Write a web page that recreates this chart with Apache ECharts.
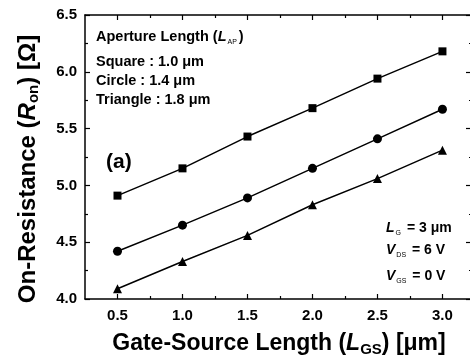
<!DOCTYPE html>
<html>
<head>
<meta charset="utf-8">
<script src="https://cdn.jsdelivr.net/npm/echarts@6/dist/echarts.min.js"></script>
<style>
  html, body { margin: 0; padding: 0; background: #fff; }
  #main { width: 470px; height: 359px; }
</style>
</head>
<body>
<div id="main"></div>
<script>
// gate-source length (um)
var lgs = [0.5, 1.0, 1.5, 2.0, 2.5, 3.0];
// on-resistance (ohm) per aperture shape
var square = [4.91, 5.15, 5.43, 5.68, 5.94, 6.18];
var circle = [4.42, 4.65, 4.89, 5.15, 5.41, 5.67];
var triangle = [4.09, 4.33, 4.56, 4.83, 5.06, 5.31];
var xMajor = [0.5, 1.0, 1.5, 2.0, 2.5, 3.0];
var xMinor = [0.75, 1.25, 1.75, 2.25, 2.75];

var FONT = 'Liberation Sans';

function pairs(ys) {
    return lgs.map(function (x, i) { return [x, ys[i]]; });
}

function xAx(pos, ticks, len, withLabel, showLine) {
    return {
        type: 'value', min: 0.25, max: 3.235, position: pos,
        axisLine: { show: showLine, onZero: false, lineStyle: { color: '#000', width: 1.5 } },
        axisTick: { show: true, inside: true, length: len, customValues: ticks,
            lineStyle: { color: '#000', width: 1.2 } },
        axisLabel: withLabel ? {
            show: true, customValues: xMajor, margin: 9,
            fontFamily: FONT, fontWeight: 'bold', fontSize: 15, color: '#000',
            formatter: function (v) { return v.toFixed(1); }
        } : { show: false },
        splitLine: { show: false }
    };
}

function titleRich(size, sub) {
    return {
        t: { fontFamily: FONT, fontWeight: 'bold', fontSize: size, color: '#000', lineHeight: 26 },
        i: { fontFamily: FONT, fontWeight: 'bold', fontStyle: 'italic', fontSize: size, color: '#000', lineHeight: 26 },
        s: { fontFamily: FONT, fontWeight: 'bold', fontSize: sub, color: '#000', lineHeight: 26, verticalAlign: 'bottom', padding: [9, 0, 0, 0] }
    };
}

function noteRich(size, pad) {
    return {
        t: { fontFamily: FONT, fontWeight: 'bold', fontSize: size, lineHeight: 18 },
        i: { fontFamily: FONT, fontWeight: 'bold', fontStyle: 'italic', fontSize: size, lineHeight: 18 },
        s: { fontFamily: FONT, fontSize: 7, lineHeight: 18, verticalAlign: 'bottom', padding: [pad, 2, 0, 1] }
    };
}

var myChart = echarts.init(document.getElementById('main'));
var lineStyle = { color: '#000', width: 1.5 };
var txt = { fontFamily: FONT, fontWeight: 'bold', fill: '#000' };

myChart.setOption({
    animation: false,
    grid: { left: 85, top: 15, right: -3, bottom: 60, outerBoundsMode: 'none', containLabel: false },
    xAxis: [
        Object.assign(xAx('bottom', xMajor, 5, true, true), {
            name: '{t|Gate-Source Length (}{i|L}{s|GS}{t|) [μm]}',
            nameLocation: 'middle', nameGap: 32,
            nameTextStyle: { rich: titleRich(23, 15) }
        }),
        xAx('bottom', xMinor, 3, false, false),
        xAx('top', xMajor, 5, false, true),
        xAx('top', xMinor, 3, false, false)
    ],
    yAxis: [
        {
            type: 'value', min: 4.0, max: 6.5, interval: 0.5, position: 'left',
            name: '{t|On-Resistance (}{i|R}{s|on}{t|) [Ω]}',
            nameLocation: 'middle', nameGap: 44, nameRotate: 90,
            nameTextStyle: { rich: titleRich(24, 15), padding: [0, 24, 0, 0] },
            axisLine: { show: true, lineStyle: { color: '#000', width: 1.5 } },
            axisTick: { inside: true, length: 5, lineStyle: { color: '#000', width: 1.2 } },
            minorTick: { show: true, splitNumber: 2, length: 3, lineStyle: { color: '#000', width: 1.2 } },
            axisLabel: { margin: 8, fontFamily: FONT, fontWeight: 'bold', fontSize: 15, color: '#000',
                formatter: function (v) { return v.toFixed(1); } },
            splitLine: { show: false }
        },
        {
            type: 'value', min: 4.0, max: 6.5, interval: 0.5, position: 'right',
            axisLine: { show: true, lineStyle: { color: '#000', width: 1.5 } },
            axisTick: { inside: true, length: 7, lineStyle: { color: '#000', width: 1.2 } },
            minorTick: { show: true, splitNumber: 2, length: 4, lineStyle: { color: '#000', width: 1.2 } },
            axisLabel: { show: false },
            splitLine: { show: false }
        }
    ],
    series: [
        { name: 'Square', type: 'line', data: pairs(square), symbol: 'rect', symbolSize: 8,
          lineStyle: lineStyle, itemStyle: { color: '#000' } },
        { name: 'Circle', type: 'line', data: pairs(circle), symbol: 'circle', symbolSize: 9,
          lineStyle: lineStyle, itemStyle: { color: '#000' } },
        { name: 'Triangle', type: 'line', data: pairs(triangle), symbol: 'triangle', symbolSize: 9,
          lineStyle: lineStyle, itemStyle: { color: '#000' } }
    ],
    graphic: [
        { type: 'text', left: 96, top: 29, style: Object.assign({
            text: '{t|Aperture Length (}{i|L}{s|AP}{t|)}', rich: noteRich(14.5, 7) }, txt) },
        { type: 'text', left: 96, top: 54, style: Object.assign({ text: 'Square : 1.0 μm', fontSize: 14.5 }, txt) },
        { type: 'text', left: 96, top: 73, style: Object.assign({ text: 'Circle : 1.4 μm', fontSize: 14.5 }, txt) },
        { type: 'text', left: 96, top: 92, style: Object.assign({ text: 'Triangle : 1.8 μm', fontSize: 14.5 }, txt) },
        { type: 'text', left: 106, top: 152, style: Object.assign({ text: '(a)', fontSize: 21 }, txt) },
        { type: 'text', left: 386, top: 221, style: Object.assign({
            text: '{i|L}{s|G}{t| = 3 μm}', rich: noteRich(14, 7) }, txt) },
        { type: 'text', left: 386, top: 243, style: Object.assign({
            text: '{i|V}{s|DS}{t| = 6 V}', rich: noteRich(14, 9) }, txt) },
        { type: 'text', left: 386, top: 269, style: Object.assign({
            text: '{i|V}{s|GS}{t| = 0 V}', rich: noteRich(14, 9) }, txt) }
    ]
});
</script>
</body>
</html>
